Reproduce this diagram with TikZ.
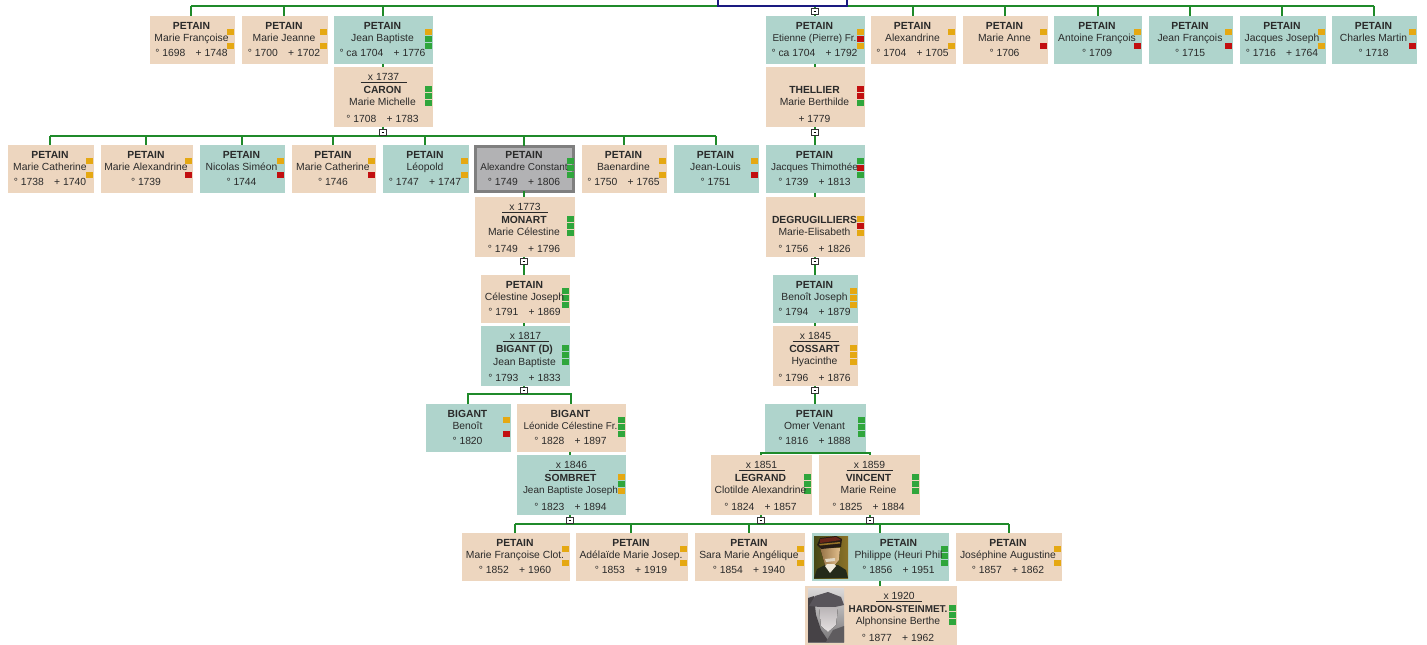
\documentclass[tikz,border=0pt]{standalone}
\usepackage{fontspec}
\setmainfont{Liberation Sans}
\definecolor{beige}{HTML}{EDD6BF}
\definecolor{teal}{HTML}{AFD4CC}
\definecolor{sel}{HTML}{B2B2B4}
\definecolor{selb}{HTML}{7F7F7F}
\definecolor{fO}{HTML}{E5A812}
\definecolor{fG}{HTML}{2FA63C}
\definecolor{fR}{HTML}{C20F10}
\definecolor{bus}{HTML}{1F8A2A}
\definecolor{ink}{HTML}{2A2A2A}
\definecolor{navy}{HTML}{1A1A80}
\tikzset{
  x=0.75pt,y=-0.75pt,
  pbox/.style={draw=none,inner sep=0,outer sep=0,rectangle},
  plabel/.style={inner sep=0,outer sep=0,align=center,text=ink,font=\fontsize{7.75}{9}\selectfont,anchor=north},
  link/.style={draw=bus,line width=1.35pt},
  kin/.style={draw=navy,line width=1.35pt},
  fold/.style={draw=black!80,fill=white,line width=0.5pt,inner sep=0,outer sep=0,minimum width=4.9pt,minimum height=4.6pt,rectangle,
    path picture={\draw[black,line width=0.45pt] ([xshift=-1.1pt]path picture bounding box.center) -- ([xshift=1.1pt]path picture bounding box.center);}},
  flagmark/.style={inner sep=0,outer sep=0,minimum width=5.25pt,minimum height=4.9pt,rectangle},
  mrule/.style={draw=ink,line width=0.5pt},
}
\newcommand\dd[2]{° #1\quad+ #2}
\newcommand\flagset[4]{\flagone{#1}{#2}{#3}#4\relax}
\def\flagone#1#2#3#4#5#6\relax{%
  \ifx#4N\else\node[flagmark,fill=f#4] (#1-fa) at ({#2-4.5},{#3+3.2}) {};\fi
  \ifx#5N\else\node[flagmark,fill=f#5] (#1-fb) at ({#2-4.5},{#3+10}) {};\fi
  \ifx#6N\else\node[flagmark,fill=f#6] (#1-fc) at ({#2-4.5},{#3+17}) {};\fi}
\newcommand\tshift{0}
\newcommand\tn[1]{{\fontsize{7.45}{9}\selectfont #1}}
% name x0 x1 top fill flags surname first dates
\newcommand\single[9]{%
  \node[pbox,fill=#5,minimum width={(#3-#2)*0.75pt},minimum height=36pt] (#1) at ({(#2+#3)/2},{#4+24}) {};
  \flagset{#1}{#3}{#4+13}{#6}%
  \node[plabel] (#1-t) at ({(#2+#3)/2-1+\tshift},{#4+6}) {\textbf{#7}\\[0.4pt]#8\\[2pt]#9};
  \renewcommand\tshift{0}}
\newcommand\spouse[1]{\def\marr{#1}\spouseB}
\newcommand\spouseB[9]{%
  \node[pbox,fill=#5,minimum width={(#3-#2)*0.75pt},minimum height=45pt] (#1) at ({(#2+#3)/2},{#4+30}) {};
  \ifx\marr\empty\else
    \node[plabel] (#1-m) at ({(#2+#3)/2+\tshift},{#4+6}) {x \marr};
    \draw[mrule] ({(#2+#3)/2+\tshift-23},{#4+15}) -- ({(#2+#3)/2+\tshift+23},{#4+15});
  \fi
  \flagset{#1}{#3}{#4+19}{#6}%
  \node[plabel] (#1-t) at ({(#2+#3)/2-1+\tshift},{#4+19.5}) {\textbf{#7}\\[0.2pt]#8\\[3.4pt]#9};
  \renewcommand\tshift{0}}
\begin{document}
\begin{tikzpicture}
\useasboundingbox (0,0) rectangle (1427,645);
\fill[white] (0,0) rectangle (1427,645);

% row 1
\single{a1}{150}{235}{16}{beige}{ONO}{PETAIN}{Marie Françoise}{\dd{1698}{1748}}
\single{a2}{242}{328}{16}{beige}{ONO}{PETAIN}{Marie Jeanne}{\dd{1700}{1702}}
\single{a3}{334}{433}{16}{teal}{OGG}{PETAIN}{Jean Baptiste}{° ca 1704\quad+ 1776}
\single{a4}{766}{865}{16}{teal}{ORO}{PETAIN}{\tn{Etienne (Pierre) Fr.}}{° ca 1704\quad+ 1792}
\single{a5}{871}{956}{16}{beige}{ONO}{PETAIN}{Alexandrine}{\dd{1704}{1705}}
\single{a6}{963}{1048}{16}{beige}{ONR}{PETAIN}{Marie Anne}{° 1706}
\single{a7}{1054}{1142}{16}{teal}{ONR}{PETAIN}{Antoine François}{° 1709}
\single{a8}{1149}{1233}{16}{teal}{ONR}{PETAIN}{Jean François}{° 1715}
\single{a9}{1240}{1326}{16}{teal}{ONO}{PETAIN}{Jacques Joseph}{\dd{1716}{1764}}
\single{a10}{1332}{1417}{16}{teal}{ONR}{PETAIN}{Charles Martin}{° 1718}
\spouse{1737}{as3}{334}{433}{67}{beige}{GGG}{CARON}{Marie Michelle}{\dd{1708}{1783}}
\spouse{}{as4}{766}{865}{67}{beige}{RRG}{THELLIER}{Marie Berthilde}{+ 1779}

% row 2
\single{b1}{8}{94}{145}{beige}{ONO}{PETAIN}{Marie Catherine}{\dd{1738}{1740}}
\single{b2}{101}{193}{145}{beige}{ONR}{PETAIN}{Marie Alexandrine}{° 1739}
\single{b3}{200}{285}{145}{teal}{ONR}{PETAIN}{Nicolas Siméon}{° 1744}
\single{b4}{292}{376}{145}{beige}{ONR}{PETAIN}{Marie Catherine}{° 1746}
\single{b5}{383}{469}{145}{teal}{ONO}{PETAIN}{Léopold}{\dd{1747}{1747}}
\node[pbox,draw=selb,line width=2.2pt,fill=sel,minimum width={97.5*0.75pt},minimum height={45*0.75pt}] (b6f) at (524.5,169) {};
\single{b6}{475}{575}{145}{none}{GGG}{PETAIN}{\tn{Alexandre Constant}}{\dd{1749}{1806}}
\single{b7}{582}{667}{145}{beige}{ONO}{PETAIN}{Baenardine}{\dd{1750}{1765}}
\single{b8}{674}{759}{145}{teal}{ONR}{PETAIN}{Jean-Louis}{° 1751}
\single{b9}{766}{865}{145}{teal}{GRG}{PETAIN}{\tn{Jacques Thimothée}}{\dd{1739}{1813}}
\spouse{1773}{bs6}{475}{575}{197}{beige}{GGG}{MONART}{Marie Célestine}{\dd{1749}{1796}}
\spouse{}{bs9}{766}{865}{197}{beige}{ORO}{DEGRUGILLIERS}{Marie-Elisabeth}{\dd{1756}{1826}}

% row 3
\single{c1}{481}{570}{275}{beige}{GGG}{PETAIN}{Célestine Joseph}{\dd{1791}{1869}}
\single{c2}{773}{858}{275}{teal}{OOO}{PETAIN}{Benoît Joseph}{\dd{1794}{1879}}
\spouse{1817}{cs1}{481}{570}{326}{teal}{GGG}{BIGANT (D)}{Jean Baptiste}{\dd{1793}{1833}}
\spouse{1845}{cs2}{773}{858}{326}{beige}{OOO}{COSSART}{Hyacinthe}{\dd{1796}{1876}}

% row 4
\single{d1}{426}{511}{404}{teal}{ONR}{BIGANT}{Benoît}{° 1820}
\single{d2}{517}{626}{404}{beige}{GGG}{BIGANT}{\tn{Léonide Célestine Fr.}}{\dd{1828}{1897}}
\single{d3}{765}{866}{404}{teal}{GGG}{PETAIN}{Omer Venant}{\dd{1816}{1888}}
\spouse{1846}{ds2}{517}{626}{455}{teal}{OGO}{SOMBRET}{\tn{Jean Baptiste Joseph}}{\dd{1823}{1894}}
\spouse{1851}{ds3a}{711}{812}{455}{beige}{GGG}{LEGRAND}{Clotilde Alexandrine}{\dd{1824}{1857}}
\spouse{1859}{ds3b}{819}{920}{455}{beige}{GGG}{VINCENT}{Marie Reine}{\dd{1825}{1884}}

% row 5
\single{e1}{462}{570}{533}{beige}{ONO}{PETAIN}{Marie Françoise Clot.}{\dd{1852}{1960}}
\single{e2}{576}{688}{533}{beige}{ONO}{PETAIN}{Adélaïde Marie Josep.}{\dd{1853}{1919}}
\single{e3}{695}{805}{533}{beige}{ONO}{PETAIN}{Sara Marie Angélique}{\dd{1854}{1940}}
\renewcommand\tshift{19}
\single{e4}{812}{949}{533}{teal}{GGG}{PETAIN}{Philippe (Heuri Phil}{\dd{1856}{1951}}
\single{e5}{956}{1062}{533}{beige}{ONO}{PETAIN}{Joséphine Augustine}{\dd{1857}{1862}}
\renewcommand\tshift{18}
\spouse{1920}{es4}{805}{957}{586}{beige}{GGG}{\tn{HARDON-STEINMET.}}{Alphonsine Berthe}{\dd{1877}{1962}}

% photo of e4
\begin{scope}
\clip (814,536) rectangle (848,578);
\fill[left color={rgb,255:red,70;green,72;blue,22},right color={rgb,255:red,140;green,115;blue,40}] (814,536) rectangle (848,578);
\fill[fill={rgb,255:red,36;green,42;blue,26}] (814,578) -- (817,569) -- (825,565) -- (838,565) -- (846,570) -- (848,578) -- cycle;
\fill[left color={rgb,255:red,150;green,115;blue,70},right color={rgb,255:red,225;green,190;blue,140}] (820,548) -- (840,548) -- (839,560) -- (833,567) -- (825,565) -- cycle;
\fill[fill={rgb,255:red,240;green,235;blue,220}] (825,566) -- (830,573) -- (836,566) -- (834,564) -- (827,564) -- cycle;
\fill[fill={rgb,255:red,225;green,215;blue,195}] (825,559) -- (835,558) -- (835,561) -- (826,562) -- cycle;
\fill[fill={rgb,255:red,38;green,28;blue,20}] (817,545) -- (820,538) -- (836,536) -- (842,539) -- (841,547) -- (821,549) -- cycle;
\fill[fill={rgb,255:red,105;green,38;blue,25}] (820,539) -- (836,537) -- (841,540) -- (820,543) -- cycle;
\fill[fill={rgb,255:red,150;green,115;blue,40}] (819,544) -- (840,542) -- (840,543.5) -- (820,545.5) -- cycle;
\end{scope}
% photo of es4
\begin{scope}
\clip (808,588) rectangle (844,642);
\fill[top color={rgb,255:red,220;green,218;blue,218},bottom color={rgb,255:red,120;green,118;blue,120}] (808,588) rectangle (844,642);
\fill[fill={rgb,255:red,70;green,66;blue,70}] (808,642) -- (808,598) -- (814,596) -- (816,615) -- (821,630) -- (829,642) -- cycle;
\fill[fill={rgb,255:red,88;green,84;blue,90}] (809,606) -- (815,596) -- (828,592) -- (841,597) -- (844,605) -- (835,607) -- (820,607) -- cycle;
\fill[top color={rgb,255:red,185;green,180;blue,182},bottom color={rgb,255:red,230;green,226;blue,226}] (819,607) -- (838,607) -- (836,625) -- (828,632) -- (821,626) -- cycle;
\fill[fill={rgb,255:red,95;green,92;blue,95}] (826,642) -- (833,630) -- (844,626) -- (844,642) -- cycle;
\end{scope}

% columns of the expand/collapse markers
\coordinate (colL) at (524,0);
\coordinate (colR) at (815,0);
\coordinate (colA) at (383,0);
\coordinate (colS) at (570,0);
\coordinate (colP) at (880,0);

% top bus
\coordinate (topL) at (191,6);
\coordinate (topR) at (1374,6);
\coordinate (kinL) at (718,0);
\coordinate (kinR) at (847,0);
\coordinate (kinM) at (718,6);
\coordinate (kinN) at (847,6);
\draw[link] (topL) -- (topR);
\foreach \n/\x in {a1/191,a2/284,a3/383,a4/815,a5/913,a6/1005,a7/1098,a8/1190,a9/1282,a10/1374}
  \draw[link] (\x,6) -- (\x,6 |- \n.north);
\draw[kin] (kinL) -- (kinM) -- (kinN) -- (kinR);
\draw[link] (colA |- a3.south) -- (colA |- as3.north);
\draw[link] (colR |- a4.south) -- (colR |- as4.north);

% row 2 bus
\coordinate (b2L) at (50,136);
\coordinate (b2R) at (716,136);
\draw[link] (b2L) -- (b2R);
\foreach \n/\x in {b1/50,b2/146,b3/242,b4/333,b5/425,b6f/524,b7/624,b8/716}
  \draw[link] (\x,136) -- (\x,136 |- \n.north);
\draw[link] (colA |- as3.south) -- (colA |- b2L);
\draw[link] (colR |- as4.south) -- (colR |- b9.north);
\draw[link] (colL |- b6f.south) -- (colL |- bs6.north);
\draw[link] (colR |- b9.south) -- (colR |- bs9.north);

% row 3
\draw[link] (colL |- bs6.south) -- (colL |- c1.north);
\draw[link] (colR |- bs9.south) -- (colR |- c2.north);
\draw[link] (colL |- c1.south) -- (colL |- cs1.north);
\draw[link] (colR |- c2.south) -- (colR |- cs2.north);

% row 4
\coordinate (c4L) at (468,394);
\coordinate (c4R) at (571,394);
\draw[link] (c4L |- d1.north) -- (c4L) -- (c4R) -- (c4R |- d2.north);
\draw[link] (colL |- cs1.south) -- (colL |- c4L);
\draw[link] (colR |- cs2.south) -- (colR |- d3.north);
\draw[link] (colS |- d2.south) -- (colS |- ds2.north);
\coordinate (d4L) at (761,453);
\coordinate (d4R) at (870,453);
\draw[link] (d4L |- ds3a.north) -- (d4L) -- (d4R) -- (d4R |- ds3b.north);
\draw[link] (colR |- d3.south) -- (colR |- d4L);

% row 5
\coordinate (e5L) at (515,524);
\coordinate (e5R) at (1009,524);
\draw[link] (e5L) -- (e5R);
\foreach \n/\x in {e1/515,e2/631,e3/749,e4/880,e5/1009}
  \draw[link] (\x,524) -- (\x,524 |- \n.north);
\draw[link] (colP |- e4.south) -- (colP |- es4.north);
\draw[link] (colS |- ds2.south) -- (colS |- e5L);
\draw[link] (d4L |- ds3a.south) -- (d4L |- e5L);
\draw[link] (d4R |- ds3b.south) -- (d4R |- e5L);

% expand/collapse markers, above the lines that run through them
\node[fold] (ftop) at (815,11) {};
\node[fold] (fas3) at (383,132) {};
\node[fold] (fas4) at (815,132) {};
\node[fold] (fbs6) at (524,261) {};
\node[fold] (fbs9) at (815,261) {};
\node[fold] (fcs1) at (524,390) {};
\node[fold] (fcs2) at (815,390) {};
\node[fold] (fds2) at (570,520) {};
\node[fold] (fds3a) at (761,520) {};
\node[fold] (fds3b) at (870,520) {};
\end{tikzpicture}
\end{document}
